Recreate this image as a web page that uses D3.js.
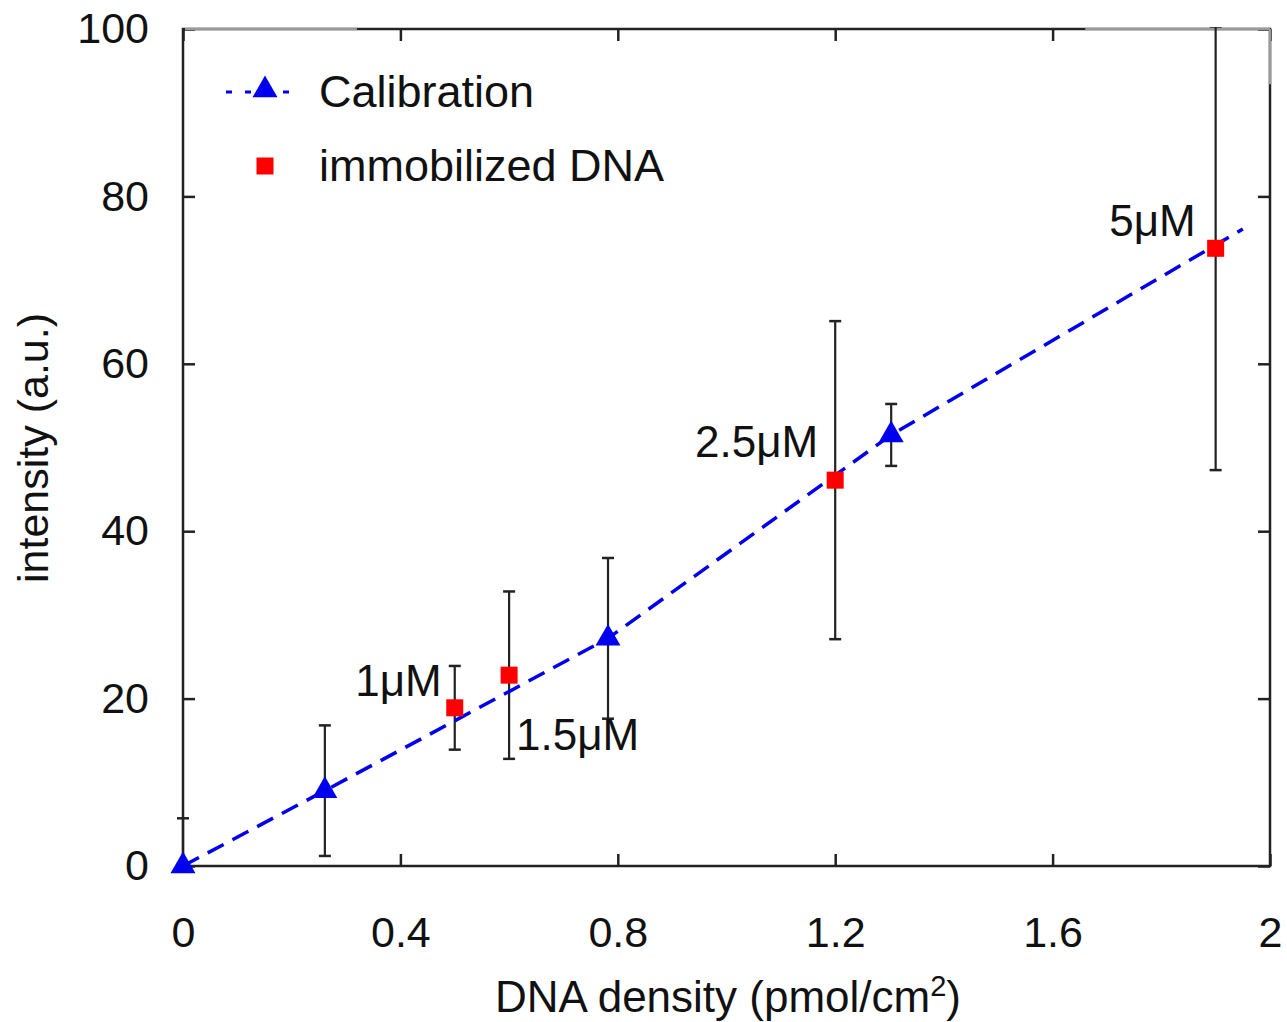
<!DOCTYPE html>
<html>
<head>
<meta charset="utf-8">
<script src="https://cdn.jsdelivr.net/npm/d3@7"></script>
<style>
  body { margin: 0; background: #fff; }
  text { font-family: "Liberation Sans", Arial, sans-serif; fill: #111; }
</style>
</head>
<body>
<script>
// calibration points (blue triangles) + end of the dashed fit line
var calX = [0, 0.261, 0.782, 1.303];
var calY = [0, 9.0, 27.2, 51.5];
var calErr = [5.7, 7.8, 9.6, 3.7];
var calEndX = 1.95, calEndY = 76.1;

// immobilized DNA (red squares)
var dnaX = [0.5, 0.6, 1.2, 1.9];
var dnaY = [18.9, 22.8, 46.1, 73.8];
var dnaErr = [5.0, 10.0, 19.0, 26.5];
var dnaLabels = ["1\u03bcM", "1.5\u03bcM", "2.5\u03bcM", "5\u03bcM"];

var xTicks = [0, 0.4, 0.8, 1.2, 1.6, 2];
var yTicks = [0, 20, 40, 60, 80, 100];

(function () {
var W = 1287, H = 1022;
var mL = 183, mR = 1270, mT = 29, mB = 866;

var svg = d3.select("body").append("svg").attr("width", W).attr("height", H);

var x = d3.scaleLinear().domain([0, 2]).range([mL, mR]);
var y = d3.scaleLinear().domain([0, 100]).range([mB, mT]);

// axes, ticks inward on all four sides
function styleAxis(g) {
  g.select(".domain").remove();
  g.selectAll(".tick line").attr("stroke", "#222").attr("stroke-width", 2.5);
  g.selectAll("text").style("font-size", "43px").attr("fill", "#111");
}
svg.append("g").attr("transform", "translate(0," + mB + ")")
  .call(d3.axisBottom(x).tickValues(xTicks).tickFormat(d3.format("")).tickSize(-12).tickPadding(50))
  .call(styleAxis);
svg.append("g").attr("transform", "translate(" + mL + ",0)")
  .call(d3.axisLeft(y).tickValues(yTicks).tickSize(-12).tickPadding(34))
  .call(styleAxis);
svg.append("g").attr("transform", "translate(0," + mT + ")")
  .call(d3.axisTop(x).tickValues(xTicks).tickSize(-12).tickFormat(""))
  .call(styleAxis);
svg.append("g").attr("transform", "translate(" + mR + ",0)")
  .call(d3.axisRight(y).tickValues(yTicks).tickSize(-12).tickFormat(""))
  .call(styleAxis);

// frame
svg.append("rect").attr("x", mL).attr("y", mT)
  .attr("width", mR - mL).attr("height", mB - mT)
  .attr("fill", "none").attr("stroke", "#222").attr("stroke-width", 2.5);
// lighter bits of the frame seen in the original
svg.append("line").attr("x1", mL + 2).attr("x2", x(0.32)).attr("y1", mT).attr("y2", mT)
  .attr("stroke", "#9a9a9a").attr("stroke-width", 2.5);
svg.append("line").attr("x1", x(1.66)).attr("x2", mR).attr("y1", mT).attr("y2", mT)
  .attr("stroke", "#9a9a9a").attr("stroke-width", 2.5);
svg.append("line").attr("x1", mR).attr("x2", mR).attr("y1", mT).attr("y2", y(93.4))
  .attr("stroke", "#9a9a9a").attr("stroke-width", 2.5);

var plot = svg.append("g");
svg.append("clipPath").attr("id", "clip").append("rect")
  .attr("x", mL - 10).attr("y", mT - 2).attr("width", mR - mL + 20).attr("height", mB - mT + 2);

// error bars
function errBars(xs, ys, es, capW) {
  var g = plot.append("g").attr("clip-path", "url(#clip)");
  xs.forEach(function (xv, i) {
    var cx = x(xv), y1 = y(ys[i] + es[i]), y0 = y(ys[i] - es[i]);
    g.append("line").attr("x1", cx).attr("x2", cx).attr("y1", y1).attr("y2", y0)
      .attr("stroke", "#222").attr("stroke-width", 2.2);
    [y1, y0].forEach(function (yy) {
      g.append("line").attr("x1", cx - capW).attr("x2", cx + capW).attr("y1", yy).attr("y2", yy)
        .attr("stroke", "#222").attr("stroke-width", 2.5);
    });
  });
}
errBars(calX, calY, calErr, 6);
errBars(dnaX, dnaY, dnaErr, 6);

// dashed calibration line
var lineX = calX.concat([calEndX]), lineY = calY.concat([calEndY]);
plot.append("path")
  .attr("d", d3.line().x(function (d, i) { return x(lineX[i]); }).y(function (d, i) { return y(lineY[i]); })(lineX))
  .attr("fill", "none").attr("stroke", "#0000ee").attr("stroke-width", 3.5)
  .attr("stroke-dasharray", "18,10");

var tri = d3.symbol().type(d3.symbolTriangle).size(270);
plot.selectAll(".tri").data(calX).enter().append("path")
  .attr("transform", function (d, i) { return "translate(" + x(d) + "," + y(calY[i]) + ")"; })
  .attr("d", tri).attr("fill", "#0000ee");

var sq = 17;
plot.selectAll(".sq").data(dnaX).enter().append("rect")
  .attr("x", function (d) { return x(d) - sq / 2; })
  .attr("y", function (d, i) { return y(dnaY[i]) - sq / 2; })
  .attr("width", sq).attr("height", sq).attr("fill", "#ff0000");

// point labels
var labOff = [[-13, -12, "end"], [7, 75, "start"], [-17, -23, "end"], [-20, -12, "end"]];
plot.selectAll(".lab").data(dnaLabels).enter().append("text")
  .attr("x", function (d, i) { return x(dnaX[i]) + labOff[i][0]; })
  .attr("y", function (d, i) { return y(dnaY[i]) + labOff[i][1]; })
  .attr("text-anchor", function (d, i) { return labOff[i][2]; })
  .style("font-size", "44px").text(function (d) { return d; });

// legend
var lg = svg.append("g");
lg.append("line").attr("x1", 226).attr("x2", 295).attr("y1", 92).attr("y2", 92)
  .attr("stroke", "#0000ee").attr("stroke-width", 3).attr("stroke-dasharray", "6,13");
lg.append("path").attr("transform", "translate(265,90)").attr("d", tri).attr("fill", "#0000ee");
lg.append("text").attr("x", 319).attr("y", 107).style("font-size", "45px").text("Calibration");
lg.append("rect").attr("x", 265 - sq / 2).attr("y", 166 - sq / 2).attr("width", sq).attr("height", sq).attr("fill", "#ff0000");
lg.append("text").attr("x", 319).attr("y", 181).style("font-size", "45px").text("immobilized DNA");

// axis titles
var xt = svg.append("text").attr("x", 728).attr("y", 1012).attr("text-anchor", "middle").style("font-size", "44px");
xt.append("tspan").text("DNA density (pmol/cm");
xt.append("tspan").attr("dy", -16).style("font-size", "29px").text("2");
xt.append("tspan").attr("dy", 16).text(")");

svg.append("text").attr("transform", "translate(48,448) rotate(-90)")
  .attr("text-anchor", "middle").style("font-size", "43px").text("intensity (a.u.)");
})();
</script>
</body>
</html>
